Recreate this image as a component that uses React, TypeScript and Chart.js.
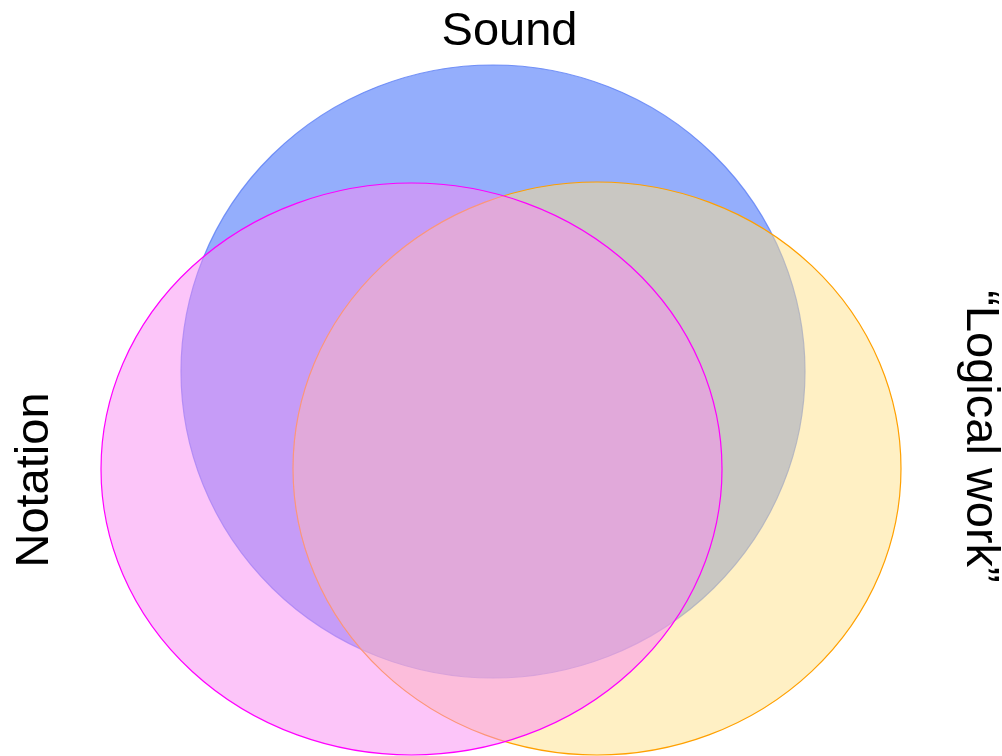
import React, { useEffect, useRef } from 'react';
import { Chart, registerables } from 'chart.js';

Chart.register(...registerables);

// Set names (draw order: Sound, "Logical work", Notation)
const setNames = ['Sound', '“Logical work”', 'Notation'];
// Ellipse centres and radii in plot units (y grows upward)
const centerX = [493, 597, 411.5];
const centerY = [384.5, 287.5, 287];
const radiusX = [312, 304, 310.5];
const radiusY = [306.5, 286.5, 286];
const fillColors = ['rgba(41,93,249,0.5)', 'rgba(255,225,137,0.5)', 'rgba(249,139,243,0.5)'];
const strokeColors = ['rgba(90,125,245,0.8)', '#FFA000', '#FF00FF'];

const X_MAX = 1002;
const Y_MAX = 756;

const vennPlugin = {
  id: 'venn',
  afterDatasetsDraw(chart: any) {
    const { ctx, scales } = chart;
    const xs = scales.x;
    const ys = scales.y;
    ctx.save();
    for (let i = 0; i < setNames.length; i++) {
      const px = xs.getPixelForValue(centerX[i]);
      const py = ys.getPixelForValue(centerY[i]);
      const rx = Math.abs(xs.getPixelForValue(centerX[i] + radiusX[i]) - px);
      const ry = Math.abs(ys.getPixelForValue(centerY[i] + radiusY[i]) - py);
      ctx.beginPath();
      ctx.ellipse(px, py, rx, ry, 0, 0, Math.PI * 2);
      ctx.fillStyle = fillColors[i];
      ctx.fill();
      ctx.lineWidth = 1.2;
      ctx.strokeStyle = strokeColors[i];
      ctx.stroke();
    }
    // labels
    ctx.fillStyle = '#000';
    ctx.font = '47px "Liberation Sans", Arial, sans-serif';
    ctx.textAlign = 'center';
    ctx.textBaseline = 'alphabetic';
    ctx.fillText(setNames[0], 509.5, 45);

    ctx.save();
    ctx.translate(48, 480);
    ctx.rotate(-Math.PI / 2);
    ctx.fillText(setNames[2], 0, 0);
    ctx.restore();

    ctx.save();
    ctx.translate(967, 436.5);
    ctx.rotate(Math.PI / 2);
    ctx.fillText(setNames[1], 0, 0);
    ctx.restore();
    ctx.restore();
  },
};

export default function App() {
  const canvasRef = useRef<HTMLCanvasElement | null>(null);
  useEffect(() => {
    if (!canvasRef.current) return;
    const chart = new Chart(canvasRef.current, {
      type: 'scatter',
      data: {
        datasets: [
          {
            label: 'centres',
            data: centerX.map((x, i) => ({ x, y: centerY[i] })),
            pointRadius: 0,
            pointHoverRadius: 0,
          },
        ],
      },
      options: {
        animation: false,
        responsive: true,
        maintainAspectRatio: false,
        layout: { padding: 0 },
        plugins: { legend: { display: false }, tooltip: { enabled: false }, title: { display: false } },
        events: [],
        scales: {
          x: { type: 'linear', min: 0, max: X_MAX, display: false },
          y: { type: 'linear', min: 0, max: Y_MAX, display: false },
        },
      },
      plugins: [vennPlugin],
    });
    return () => chart.destroy();
  }, []);
  return (
    <div style={{ position: 'fixed', left: 0, top: 0, width: X_MAX, height: Y_MAX, background: '#fff' }}>
      <canvas ref={canvasRef} />
    </div>
  );
}
